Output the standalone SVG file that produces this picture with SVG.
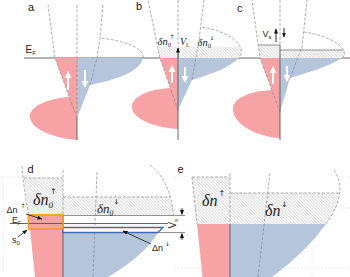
<svg xmlns="http://www.w3.org/2000/svg" width="350" height="277" viewBox="0 0 350 277">
<defs>
  <pattern id="hatch" width="2.2" height="2.2" patternUnits="userSpaceOnUse" patternTransform="rotate(-45)">
    <rect width="2.2" height="2.2" fill="#fff"/>
    <line x1="0.5" y1="0" x2="0.5" y2="2.2" stroke="#c4c4c4" stroke-width="0.6"/>
  </pattern>
  <marker id="ah" viewBox="0 0 10 10" refX="9" refY="5" markerUnits="userSpaceOnUse" markerWidth="5" markerHeight="5" orient="auto">
    <path d="M0,1 L10,5 L0,9 Z" fill="#111"/>
  </marker>
  <clipPath id="belowEF"><rect x="0" y="58" width="350" height="90"/></clipPath>
  <clipPath id="hb"><rect x="0" y="47" width="350" height="11"/></clipPath>
  <clipPath id="hc"><rect x="0" y="50" width="350" height="8"/></clipPath>
  <path id="blueA" d="M77,118 L90,85 C115,80 140,72 143,58 C145,47 120,40 100,38 L103,5 L77,5 Z"/>
  <path id="blueB" d="M178,110 L192,80 C215,73 233,66 240,56 C247,44 225,30 201,27 L204,0 L178,0 Z"/>
  <path id="blueC" d="M280,112 L290,78 C310,72 332,65 342,58 C352,50 330,35 303.6,32 L307,0 L280,0 Z"/>
</defs>
<style>
  .red{fill:#f7a3a6}
  .blue{fill:#b5c5dc}
  .hat{fill:url(#hatch)}
  .dash{fill:none;stroke:#8a8a8a;stroke-width:0.7;stroke-dasharray:3 1.6}
  .dot{fill:none;stroke:#d4d4d4;stroke-width:0.6;stroke-dasharray:1 2}
  .ax{fill:none;stroke:#555;stroke-width:0.9}
  .ln{fill:none;stroke:#777;stroke-width:0.8}
  .wa{fill:#fff}
  .was{stroke:#fff;stroke-width:2;fill:none}
  .lbl{font-family:"Liberation Sans",Arial,sans-serif;font-size:11px;fill:#222}
  .sm{font-family:"Liberation Sans",Arial,sans-serif;fill:#222}
  .it{font-family:"Liberation Serif","Times New Roman","DejaVu Serif",serif;font-style:italic;fill:#222}
  .sy{font-family:"DejaVu Sans","Liberation Sans",sans-serif;fill:#222}
</style>

<!-- faint background dotted grid -->
<g id="grid">
  <path class="dot" d="M0,177 H24 M175,177 H192 M340,177 H350 M175,268 H350 M312,245 V277 M340,208 H350 M3,178 V272"/>
</g>

<!-- E_F line (top row) -->
<g id="fermi-top">
  <path d="M24,58 H350" stroke="#666" stroke-width="1" fill="none"/>
  <text class="sm" x="25.5" y="53" font-size="10">E<tspan font-size="6" dy="2">F</tspan></text>
</g>

<!-- Panel a -->
<g id="panel-a">
  <text class="lbl" x="28" y="11">a</text>
  <path class="red" d="M55,58 L77,58 L77,140 C55,138 32,130 30,118 C28,106 50,98 69.3,97 Z"/>
  <use href="#blueA" class="blue" clip-path="url(#belowEF)"/>
  <path class="dash" d="M77,118 L55,58 L48,5"/>
  <path class="dash" d="M90,85 L97,58 L100,38 L103,5"/>
  <path class="dash" d="M143,58 C145,47 120,40 100,38"/>
  <path class="dash" d="M77,5 V118"/>
  <path class="ax" d="M77,118 V140"/>
  <path class="was" d="M68,90 V77"/>
  <polygon class="wa" points="64.5,78 68,71 71.5,78"/>
  <path class="was" d="M85,70 V82"/>
  <polygon class="wa" points="81.5,81 85,88 88.5,81"/>
</g>

<!-- Panel b -->
<g id="panel-b">
  <text class="lbl" x="136" y="10">b</text>
  <path class="red" d="M160,58 L178,58 L178,129 C158,128 133,120 132,108 C131,96 150,89 170.4,88 Z"/>
  <use href="#blueB" class="blue" clip-path="url(#belowEF)"/>
  <path class="hat" d="M157.7,47 L178,47 L178,58 L160,58 Z"/>
  <use href="#blueB" class="hat" clip-path="url(#hb)"/>
  <path class="dash" d="M178,110 L160,58 L148,0"/>
  <path class="dash" d="M192,80 L199,40 L204,0"/>
  <path class="dash" d="M240,56 C247,44 225,30 201,27"/>
  <path class="dash" d="M178,0 V47"/>
  <path class="ax" d="M178,58 V140"/>
  <path d="M178,58 V48" stroke="#111" stroke-width="0.9" marker-end="url(#ah)"/>
  <path class="was" d="M172,83 V71"/>
  <polygon class="wa" points="168.5,72 172,65 175.5,72"/>
  <path class="was" d="M185,67 V77"/>
  <polygon class="wa" points="181.5,76 185,83 188.5,76"/>
  <text class="it" x="157.5" y="45" font-size="10.5">δn<tspan font-size="6.5" dy="2">0</tspan></text>
  <text class="sy" x="169.5" y="38.5" font-size="6">↑</text>
  <text class="it" x="180" y="45" font-size="10">V<tspan font-size="5.5" dy="1.5" font-style="normal">L</tspan></text>
  <text class="it" x="197.5" y="46" font-size="10.5">δn<tspan font-size="6.5" dy="2">0</tspan></text>
  <text class="sy" x="209.5" y="39.5" font-size="6">↓</text>
</g>

<!-- Panel c -->
<g id="panel-c">
  <text class="lbl" x="237" y="12">c</text>
  <path class="red" d="M260,58 L280,58 L280,138 C258,137 234,125 233,110 C232,98 250,91 271.9,90 Z"/>
  <use href="#blueC" class="blue" clip-path="url(#belowEF)"/>
  <path class="hat" d="M258.2,45 L280,45 L280,58 L260,58 Z"/>
  <use href="#blueC" class="hat" clip-path="url(#hc)"/>
  <path class="ln" d="M258.2,45 H280 M280,50 H343.5" stroke-width="0.6"/>
  <path class="dash" d="M280,112 L260,58 L252,0"/>
  <path class="dash" d="M290,78 L302,47 L307,0"/>
  <path class="dash" d="M342,58 C352,50 330,35 303.6,32"/>
  <path class="dash" d="M280,0 V45"/>
  <path class="ax" d="M280,45 V140"/>
  <path class="was" d="M273,84 V72"/>
  <polygon class="wa" points="269.5,73 273,66 276.5,73"/>
  <path class="was" d="M287,66 V76"/>
  <polygon class="wa" points="283.5,75 287,82 290.5,75"/>
  <text class="sm" x="262.5" y="37" font-size="9">V<tspan font-size="6" dy="1.5">s</tspan></text>
  <path d="M276,42 V29" stroke="#111" stroke-width="0.9" marker-end="url(#ah)"/>
  <path d="M284,28 V37" stroke="#111" stroke-width="0.9" marker-end="url(#ah)"/>
</g>

<!-- Panel d -->
<g id="panel-d">
  <text class="lbl" x="27.5" y="173" font-size="12">d</text>
  <path class="hat" d="M24,178 L63,178 L63,215 L28.5,215 Q25.5,196 24,178 Z"/>
  <path class="hat" d="M63,197 L170,197 Q172.5,205 173.5,215 L63,215 Z"/>
  <path class="red" d="M28.5,215 L63,215 L63,277 L35,277 Z"/>
  <path class="blue" d="M63,232.5 L158,232.5 Q145,255 108,277 L63,277 Z"/>
  <path class="dash" d="M24,178 H63 M63,197 H170"/>
  <path class="dash" d="M22,166 Q24,190 28.5,215"/>
  <path class="dash" d="M150,165 Q170,180 173.5,215"/>
  <path class="dash" d="M97,172 L93,277"/>
  <path class="dash" d="M63,170 V215"/>
  <path class="ax" d="M63,215 V277"/>
  <path class="ln" d="M63,215.5 H185 M158,232.5 H185"/>
  <path d="M10,223.5 H168" stroke="#555" stroke-width="0.9" fill="none"/>
  <polygon points="63,227.5 163,227.5 158,232.5 63,232.5" fill="#fff" stroke="#3b6db3" stroke-width="1.3"/>
  <rect x="28.5" y="215" width="34.5" height="14" fill="none" stroke="#f39a1e" stroke-width="1.6"/>
  <path d="M182,208 V214.5" stroke="#111" stroke-width="0.8" marker-end="url(#ah)"/>
  <path d="M182,240 V233.5" stroke="#111" stroke-width="0.8" marker-end="url(#ah)"/>
  <text class="sm" transform="translate(176,228.5) rotate(-90)" font-size="10">V<tspan font-size="5.5" dy="2">s</tspan></text>
  <text class="it" x="33" y="205" font-size="16">δn<tspan font-size="9" dy="3">0</tspan></text>
  <text class="sy" x="50" y="193.5" font-size="8">↑</text>
  <text class="it" x="97" y="213" font-size="13">δn<tspan font-size="7.5" dy="2.5">0</tspan></text>
  <text class="sy" x="113.5" y="204" font-size="7">↓</text>
  <text class="sm" x="6.5" y="212.5" font-size="9">Δn</text>
  <text class="sy" x="20.5" y="207.5" font-size="6">↑</text>
  <path d="M26,214 L42,219" stroke="#111" stroke-width="0.8" fill="none" marker-end="url(#ah)"/>
  <text class="sm" x="12" y="223" font-size="8.5">E<tspan font-size="5" dy="1.5">F</tspan></text>
  <text class="sm" x="12" y="243" font-size="9">s<tspan font-size="6" dy="2">0</tspan></text>
  <path d="M18,237 L27,230" stroke="#111" stroke-width="0.8" fill="none" marker-end="url(#ah)"/>
  <text class="sm" x="152" y="251" font-size="9">Δn</text>
  <text class="sy" x="165" y="246" font-size="6">↓</text>
  <path d="M151,244 L123,231" stroke="#111" stroke-width="0.8" fill="none" marker-end="url(#ah)"/>
</g>

<!-- Panel e -->
<g id="panel-e">
  <text class="lbl" x="177.5" y="173" font-size="12">e</text>
  <path class="hat" d="M192,177 L230,177 L230,224 L197,224 Z"/>
  <path class="hat" d="M230,193 L339.5,193 Q339,207 326,224 L230,224 Z"/>
  <path class="red" d="M197,224 L230,224 L230,277 L202.5,277 Z"/>
  <path class="blue" d="M230,224 L326,224 Q306,252 272,277 L230,277 Z"/>
  <path class="dash" d="M192,177 H230 M230,193 H339.5"/>
  <path class="dash" d="M192,177 L197,224"/>
  <path class="dash" d="M334,170 Q349,192 326,224"/>
  <path class="dash" d="M270,173 L258,277"/>
  <path class="dash" d="M230,173 V224"/>
  <path class="ax" d="M230,224 V277"/>
  <text class="it" x="202" y="206" font-size="16">δn</text>
  <text class="sy" x="218.5" y="196" font-size="8">↑</text>
  <text class="it" x="265" y="216" font-size="16">δn</text>
  <text class="sy" x="281" y="207" font-size="8">↓</text>
</g>
</svg>
